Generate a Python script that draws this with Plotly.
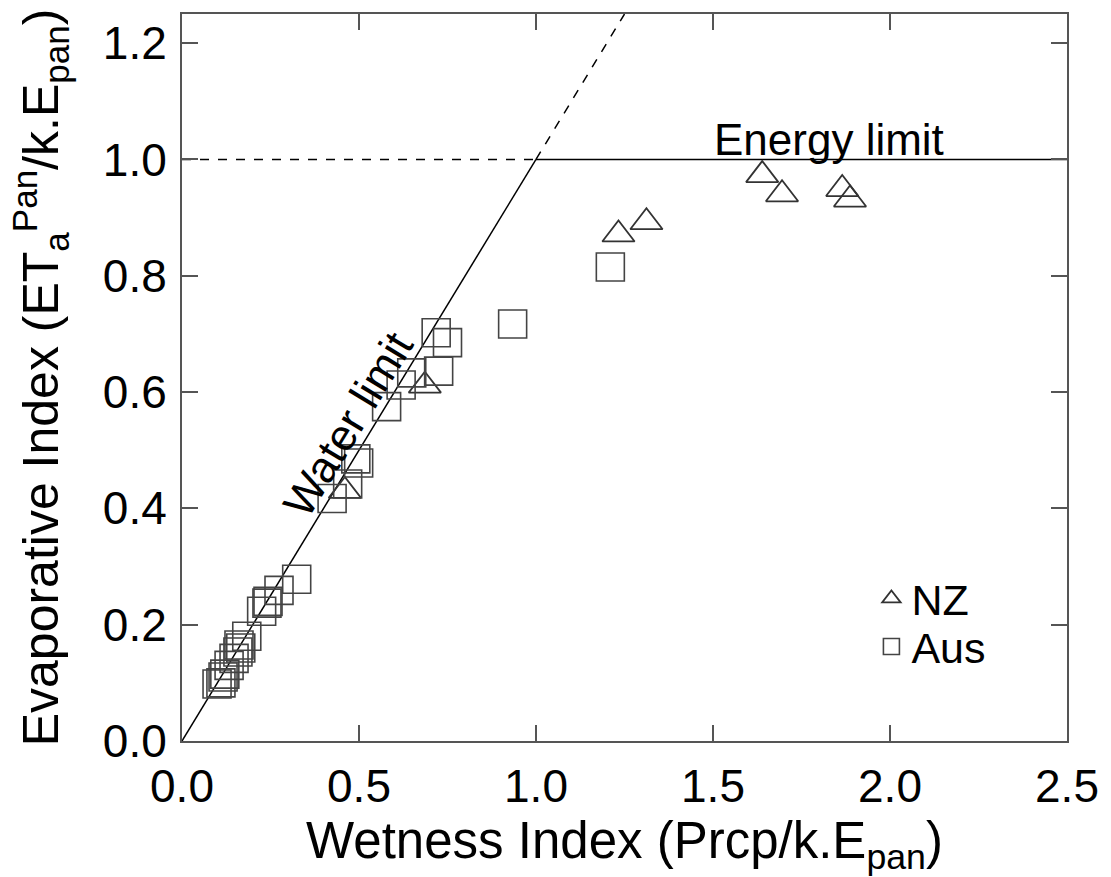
import plotly.graph_objects as go

# NZ catchments (triangles)
nz_x = [1.639, 1.695, 1.865, 1.887, 1.233, 1.312, 0.686, 0.460]
nz_y = [0.973, 0.940, 0.949, 0.931, 0.871, 0.892, 0.611, 0.430]

# Australian catchments (squares)
aus_x = [1.210, 0.934, 0.718, 0.750, 0.725, 0.649, 0.619, 0.578, 0.491, 0.499,
         0.468, 0.424, 0.324, 0.274, 0.240, 0.243, 0.225, 0.183, 0.161, 0.166,
         0.158, 0.147, 0.133, 0.121, 0.116, 0.099, 0.110]
aus_y = [0.815, 0.717, 0.702, 0.685, 0.636, 0.633, 0.612, 0.575, 0.485, 0.478,
         0.442, 0.417, 0.278, 0.259, 0.237, 0.240, 0.223, 0.180, 0.165, 0.160,
         0.153, 0.142, 0.130, 0.115, 0.110, 0.098, 0.100]

# limit lines
water_solid_x = [0.0, 1.0]
water_dash_x = [1.0, 1.25]
energy_dash_x = [0.0, 1.0]
energy_solid_x = [1.0, 2.5]
energy_level = 1.0

x_ticks = [0.0, 0.5, 1.0, 1.5, 2.0, 2.5]
y_ticks = [0.0, 0.2, 0.4, 0.6, 0.8, 1.0, 1.2]

FONT = "Liberation Sans, Arial, sans-serif"
AXC = "#555555"

fig = go.Figure()

fig.add_trace(go.Scatter(x=water_solid_x, y=water_solid_x, mode="lines",
                         line=dict(color="black", width=1.5), showlegend=False))
fig.add_trace(go.Scatter(x=water_dash_x, y=water_dash_x, mode="lines",
                         line=dict(color="black", width=1.5, dash="dash"), showlegend=False))
fig.add_trace(go.Scatter(x=energy_dash_x, y=[energy_level] * 2, mode="lines",
                         line=dict(color="black", width=1.5, dash="dash"), showlegend=False))
fig.add_trace(go.Scatter(x=energy_solid_x, y=[energy_level] * 2, mode="lines",
                         line=dict(color="black", width=1.5), showlegend=False))

fig.add_trace(go.Scatter(x=nz_x, y=nz_y, mode="markers", name="NZ", legend="legend",
                         marker=dict(symbol="triangle-up-open", size=28,
                                     color="#333333", line=dict(width=1.8, color="#333333"))))
fig.add_trace(go.Scatter(x=aus_x, y=aus_y, mode="markers", name="Aus", legend="legend2",
                         marker=dict(symbol="square-open", size=28,
                                     color="#444444", line=dict(width=1.6, color="#444444"))))

fig.add_annotation(x=1.828, y=1.0, text="Energy limit", showarrow=False,
                   xanchor="center", yanchor="bottom", yshift=-7,
                   font=dict(family=FONT, size=44, color="black"))
fig.add_annotation(x=0.468, y=0.544, text="Water limit", showarrow=False,
                   textangle=-58.7, xanchor="center", yanchor="middle",
                   font=dict(family=FONT, size=44, color="black"))

legend_common = dict(xanchor="left", yanchor="middle",
                     font=dict(family=FONT, size=43, color="black"),
                     bgcolor="rgba(0,0,0,0)", itemsizing="trace")

fig.update_layout(
    width=1111, height=877,
    margin=dict(l=182, r=43, t=12, b=136),
    paper_bgcolor="white", plot_bgcolor="white",
    font=dict(family=FONT, color="black"),
    legend=dict(x=0.779, y=0.196, **legend_common),
    legend2=dict(x=0.779, y=0.130, **legend_common),
)
fig.update_xaxes(range=[0, 2.5], tickvals=x_ticks, ticktext=[f"{v:.1f}" for v in x_ticks],
                 ticks="inside", ticklen=16, tickwidth=1.5, tickcolor=AXC,
                 showline=True, linecolor=AXC, linewidth=2, mirror="ticks",
                 showgrid=False, zeroline=False,
                 tickfont=dict(family=FONT, size=46, color="black"),
                 ticklabelstandoff=4,
                 title=dict(text="Wetness Index (Prcp/k.E<sub>pan</sub>)",
                            font=dict(family=FONT, size=51, color="black"), standoff=4))
fig.update_yaxes(range=[0, 1.25], tickvals=y_ticks, ticktext=[f"{v:.1f}" for v in y_ticks],
                 ticks="inside", ticklen=16, tickwidth=1.5, tickcolor=AXC,
                 showline=True, linecolor=AXC, linewidth=2, mirror="ticks",
                 showgrid=False, zeroline=False,
                 tickfont=dict(family=FONT, size=46, color="black"),
                 ticklabelstandoff=4,
                 title=dict(text="Evaporative Index (ET<sub>a</sub><sup>Pan</sup>/k.E<sub>pan</sub>)",
                            font=dict(family=FONT, size=50, color="black"), standoff=28))

fig.write_html("out.html")
